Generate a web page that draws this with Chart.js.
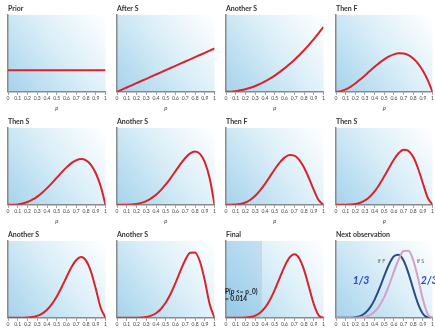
<!DOCTYPE html>
<html>
<head>
<meta charset="utf-8">
<script src="https://cdn.jsdelivr.net/npm/chart.js@4/dist/chart.umd.min.js"></script>
<style>
  html, body { margin:0; padding:0; background:#fff; overflow:hidden; }
  #wrap { position:relative; width:435px; height:329px; overflow:hidden; }
  #wrap canvas { position:absolute; }
</style>
</head>
<body>
<div id="wrap"></div>
<script>
// --- data ---
const pGrid = [0,0.05,0.1,0.15,0.2,0.25,0.3,0.35,0.4,0.45,0.5,0.55,0.6,0.65,0.7,0.75,0.8,0.85,0.9,0.95,1];

const titles = ["Prior","After S","Another S","Then F","Then S","Another S","Then F","Then S","Another S","Another S","Final","Next observation"];

const prior  = [1,1,1,1,1,1,1,1,1,1,1,1,1,1,1,1,1,1,1,1,1];
const afterS = [0,0.1,0.2,0.3,0.4,0.5,0.6,0.7,0.8,0.9,1,1.1,1.2,1.3,1.4,1.5,1.6,1.7,1.8,1.9,2];
const s2f0 = [0,0.008,0.03,0.068,0.12,0.188,0.27,0.368,0.48,0.608,0.75,0.908,1.08,1.268,1.47,1.688,1.92,2.168,2.43,2.708,3];
const s2f1 = [0,0.029,0.108,0.23,0.384,0.563,0.756,0.956,1.152,1.337,1.5,1.634,1.728,1.775,1.764,1.688,1.536,1.301,0.972,0.542,0];
const s3f1 = [0,0.002,0.018,0.057,0.128,0.234,0.378,0.557,0.768,1.002,1.25,1.497,1.728,1.922,2.058,2.109,2.048,1.842,1.458,0.857,0];
const s4f1 = [0,0,0.003,0.013,0.038,0.088,0.17,0.293,0.461,0.677,0.938,1.235,1.555,1.874,2.161,2.373,2.458,2.349,1.968,1.222,0];
const s4f2 = [0,0.001,0.009,0.038,0.108,0.231,0.417,0.666,0.968,1.303,1.641,1.946,2.177,2.296,2.269,2.076,1.72,1.233,0.689,0.214,0];
const s5f2 = [0,0,0.001,0.009,0.034,0.092,0.2,0.373,0.619,0.938,1.313,1.712,2.09,2.388,2.541,2.492,2.202,1.677,0.992,0.325,0];
const s6f2 = [0,0,0,0.002,0.01,0.035,0.09,0.196,0.372,0.633,0.984,1.413,1.881,2.328,2.668,2.803,2.642,2.139,1.339,0.463,0];
const s7f2 = [0,0,0,0,0.003,0.012,0.039,0.098,0.212,0.407,0.703,1.11,1.612,2.162,2.668,3.003,3.02,2.597,1.722,0.629,0];
const finalDens = [0,0,0,0.001,0.009,0.034,0.099,0.233,0.467,0.821,1.289,1.831,2.365,2.774,2.935,2.753,2.215,1.428,0.631,0.115,0];
const nextIfF = [0,0,0,0.004,0.021,0.077,0.208,0.455,0.841,1.354,1.934,2.472,2.838,2.913,2.642,2.065,1.329,0.643,0.189,0.017,0];
const nextIfS = [0,0,0,0,0.003,0.013,0.045,0.122,0.28,0.554,0.967,1.511,2.128,2.705,3.082,3.097,2.658,1.821,0.852,0.164,0];

const finalCut = 0.355;      // p_0 marked in "Final"
const yMax = 3.55;

const RED = "#d9222b", NAVY = "#2b4a86", PINK = "#d3a0c8";
const FONT = "Lato, 'Open Sans', sans-serif";

const pts = (arr) => arr.map((v,i)=>({x:pGrid[i], y:v}));

// background gradient inside plot area
const bgPlugin = {
  id: "bg",
  beforeDraw(chart){
    const {ctx, chartArea:a} = chart;
    const g = ctx.createLinearGradient(a.left, a.bottom, a.right, a.top);
    g.addColorStop(0, "#a5d3ec");
    g.addColorStop(0.55, "#dceff8");
    g.addColorStop(1, "#ffffff");
    ctx.save();
    ctx.fillStyle = g;
    ctx.fillRect(a.left, a.top, a.right-a.left, a.bottom-a.top);
    ctx.restore();
  }
};

// shaded tail + cut line (Final)
const shadePlugin = {
  id: "shade",
  beforeDatasetsDraw(chart, args, opts){
    if (opts.upTo == null) return;
    const {ctx, chartArea:a, scales} = chart;
    const x = scales.x.getPixelForValue(opts.upTo);
    ctx.save();
    ctx.fillStyle = "rgba(90,170,220,0.22)";
    ctx.fillRect(a.left, a.top, x-a.left, a.bottom-a.top);
    ctx.strokeStyle = "#c9c9c9";
    ctx.lineWidth = 1;
    ctx.beginPath(); ctx.moveTo(x+0.5, a.top); ctx.lineTo(x+0.5, a.bottom); ctx.stroke();
    ctx.restore();
  }
};

// text notes placed in data coordinates
const notesPlugin = {
  id: "notes",
  afterDatasetsDraw(chart, args, opts){
    if (!opts.items) return;
    const {ctx, scales} = chart;
    ctx.save();
    for (const n of opts.items){
      ctx.font = n.font;
      ctx.fillStyle = n.color;
      ctx.textAlign = n.align || "center";
      ctx.textBaseline = "middle";
      ctx.fillText(n.text, scales.x.getPixelForValue(n.x), scales.y.getPixelForValue(n.y));
    }
    ctx.restore();
  }
};

function makePanel(idx, datasets, extra){
  const col = idx % 4, row = Math.floor(idx / 4);
  const cv = document.createElement("canvas");
  cv.width = 108; cv.height = 113;
  cv.style.left = (109*col) + "px";
  cv.style.top = (113*row) + "px";
  document.getElementById("wrap").appendChild(cv);

  new Chart(cv, {
    type: "line",
    data: { datasets },
    plugins: [bgPlugin, shadePlugin, notesPlugin],
    options: {
      responsive: false,
      animation: false,
      layout: { padding: { left: col===3 ? 9 : 8, right: 1, top: 1.5, bottom: 1 } },
      elements: { point: { radius: 0 }, line: { borderWidth: 2, cubicInterpolationMode: "monotone" } },
      plugins: {
        legend: { display: false },
        tooltip: { enabled: false },
        title: {
          display: true, text: titles[idx], align: "start", color: "#333",
          font: { family: FONT, size: 7, weight: "bold" }, padding: { top: 3, bottom: 2 }
        },
        shade: (extra && extra.shade) || {},
        notes: (extra && extra.notes) || {}
      },
      scales: {
        x: {
          type: "linear", min: 0, max: 1,
          ticks: { stepSize: 0.1, autoSkip: false, maxRotation: 0, padding: 1, color: "#444",
                   font: { family: FONT, size: 5 },
                   callback: (v) => String(Math.round(v*10)/10) },
          grid: { drawOnChartArea: false, drawTicks: true, tickLength: 3, color: "#999" },
          border: { color: "#8a8a8a", width: 1.5 },
          title: { display: true, text: "p", color: "#444", padding: { top: 2, bottom: 0 },
                   font: { family: FONT, size: 6, style: "italic" } }
        },
        y: {
          min: 0, max: yMax,
          ticks: { display: false },
          grid: { display: false, drawTicks: false },
          border: { color: "#8a8a8a", width: 1.5 },
          afterFit: (s) => { s.width = 0; }
        }
      }
    }
  });
}

const redSeries = [prior, afterS, s2f0, s2f1, s3f1, s4f1, s4f2, s5f2, s6f2, s7f2];
redSeries.forEach((arr, i) => makePanel(i, [{ data: pts(arr), borderColor: RED }]));

makePanel(10, [{ data: pts(finalDens), borderColor: RED }], {
  shade: { upTo: finalCut },
  notes: { items: [
    { text: "P(p <= p_0)", x: -0.01, y: 1.2, align: "left", color: "#1a1a1a", font: "bold 6.5px " + FONT },
    { text: "= 0.014", x: -0.01, y: 0.86, align: "left", color: "#1a1a1a", font: "bold 6.5px " + FONT }
  ] }
});

makePanel(11, [
  { data: pts(nextIfS), borderColor: PINK },
  { data: pts(nextIfF), borderColor: NAVY }
], {
  notes: { items: [
    { text: "1/3", x: 0.26, y: 1.7, color: "#2a48d8", font: "italic bold 10.5px " + FONT },
    { text: "2/3", x: 0.965, y: 1.7, color: "#2a48d8", font: "italic bold 10.5px " + FONT },
    { text: "if F", x: 0.47, y: 2.62, color: "#666", font: "5.5px " + FONT },
    { text: "if S", x: 0.875, y: 2.62, color: "#666", font: "5.5px " + FONT }
  ] }
});
</script>
</body>
</html>
